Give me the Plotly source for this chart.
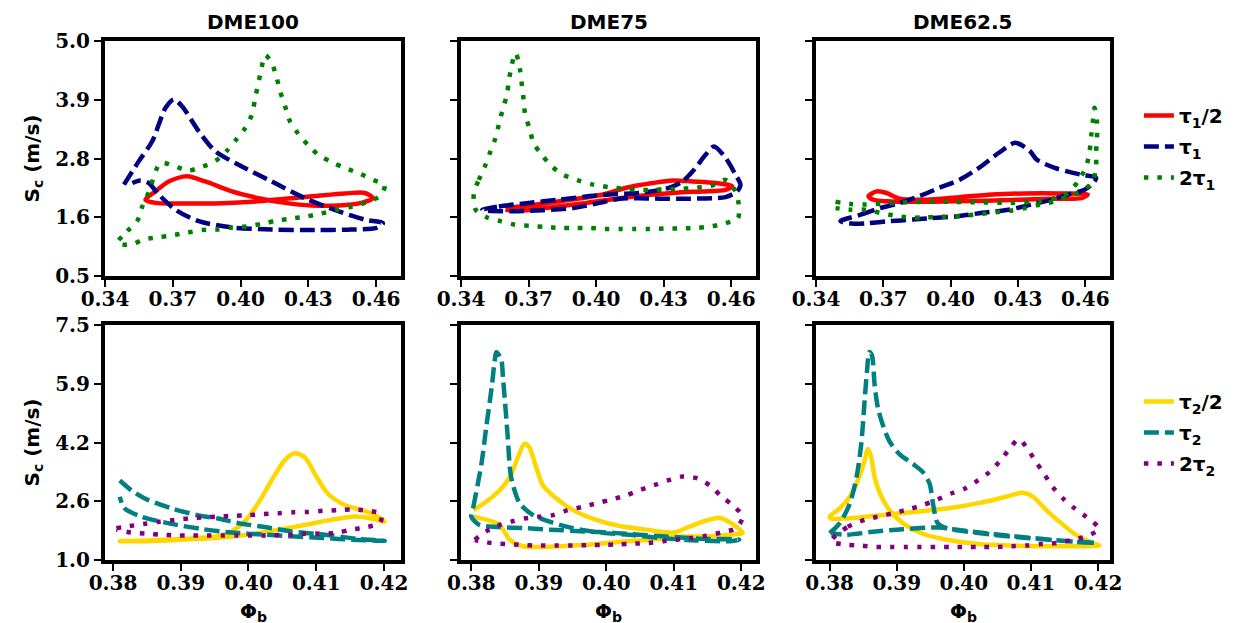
import plotly.graph_objects as go

# ---------------- DATA ----------------
# Top row (tau_1 cases), x = Phi_b, y = S_c (m/s)
# DME100
phi100_t1h = [0.3579, 0.3623, 0.3682, 0.3763, 0.3844, 0.3962, 0.4079, 0.4197, 0.4314, 0.4432, 0.4535, 0.4586,
              0.4550, 0.4461, 0.4329, 0.4197, 0.4050, 0.3888, 0.3741, 0.3623, 0.3579]
sc100_t1h = [1.96, 2.12, 2.31, 2.41, 2.31, 2.12, 1.99, 1.90, 1.85, 1.85, 1.90, 1.99,
             2.09, 2.08, 2.03, 1.98, 1.92, 1.89, 1.89, 1.90, 1.96]
phi100_t1 = [0.3484, 0.3550, 0.3609, 0.3668, 0.3704, 0.3741, 0.3815, 0.3888, 0.3991, 0.4138, 0.4285, 0.4432,
             0.4550, 0.4630, 0.4601, 0.4491, 0.4329, 0.4138, 0.3962, 0.3815, 0.3712, 0.3638, 0.3594, 0.3557, 0.3521]
sc100_t1 = [2.25, 2.70, 3.08, 3.72, 3.88, 3.75, 3.27, 2.89, 2.63, 2.31, 1.99, 1.74,
            1.58, 1.51, 1.42, 1.39, 1.38, 1.39, 1.43, 1.55, 1.77, 2.06, 2.28, 2.33, 2.28]
phi100_t1d = [0.3454, 0.3499, 0.3543, 0.3565, 0.3594, 0.3645, 0.3704, 0.3768, 0.3829, 0.3888, 0.3940, 0.3984,
              0.4020, 0.4050, 0.4065, 0.4090, 0.4109, 0.4138, 0.4160, 0.4175, 0.4197, 0.4219, 0.4256, 0.4300,
              0.4344, 0.4403, 0.4461, 0.4528, 0.4586, 0.4638, 0.4616, 0.4550, 0.4484, 0.4425, 0.4351, 0.4292,
              0.4226, 0.4160, 0.4094, 0.4028, 0.3962, 0.3896, 0.3829, 0.3763, 0.3697, 0.3638, 0.3572, 0.3513, 0.3454]
sc100_t1d = [1.13, 1.36, 1.56, 1.83, 2.11, 2.66, 2.61, 2.52, 2.59, 2.70, 2.90, 3.13,
             3.33, 3.59, 3.91, 4.42, 4.73, 4.58, 4.29, 4.04, 3.75, 3.46, 3.22, 3.00,
             2.82, 2.68, 2.57, 2.46, 2.34, 2.24, 2.03, 1.90, 1.82, 1.77, 1.69, 1.64,
             1.60, 1.56, 1.50, 1.45, 1.43, 1.39, 1.38, 1.33, 1.28, 1.24, 1.20, 1.10, 1.13]
# DME75
phi75_t1h = [0.3597, 0.3737, 0.3884, 0.4031, 0.4134, 0.4251, 0.4339, 0.4428, 0.4531, 0.4604,
             0.4575, 0.4472, 0.4369, 0.4251, 0.4104, 0.3957, 0.3810, 0.3663, 0.3597]
sc75_t1h = [1.80, 1.87, 1.96, 2.06, 2.19, 2.28, 2.33, 2.31, 2.28, 2.22,
            2.15, 2.12, 2.10, 2.06, 1.99, 1.90, 1.82, 1.75, 1.77]
phi75_t1 = [0.3494, 0.3568, 0.3700, 0.3832, 0.3972, 0.4089, 0.4192, 0.4325, 0.4383, 0.4428, 0.4486, 0.4523,
            0.4575, 0.4619, 0.4641, 0.4626, 0.4575, 0.4516, 0.4398, 0.4281, 0.4192, 0.4104, 0.4016, 0.3898,
            0.3766, 0.3634, 0.3516, 0.3494]
sc75_t1 = [1.77, 1.83, 1.90, 1.96, 2.03, 2.07, 2.09, 2.19, 2.31, 2.50, 2.82, 2.98,
           2.76, 2.44, 2.25, 2.12, 2.01, 1.99, 1.98, 1.98, 1.99, 1.98, 1.90, 1.80,
           1.76, 1.74, 1.75, 1.77]
phi75_t1d = [0.3457, 0.3479, 0.3509, 0.3531, 0.3553, 0.3568, 0.3587, 0.3604, 0.3612, 0.3626, 0.3641, 0.3656,
             0.3663, 0.3671, 0.3678, 0.3685, 0.3704, 0.3722, 0.3759, 0.3803, 0.3854, 0.3920, 0.3987, 0.4060,
             0.4126, 0.4185, 0.4251, 0.4310, 0.4383, 0.4442, 0.4508, 0.4575, 0.4619, 0.4633, 0.4630, 0.4575,
             0.4508, 0.4442, 0.4369, 0.4310, 0.4237, 0.4170, 0.4104, 0.4038, 0.3972, 0.3906, 0.3840, 0.3773,
             0.3707, 0.3641, 0.3575, 0.3516, 0.3465, 0.3457]
sc75_t1d = [2.09, 2.34, 2.63, 2.89, 3.14, 3.40, 3.72, 3.97, 4.23, 4.55, 4.77, 4.61,
            4.42, 4.13, 3.88, 3.59, 3.33, 3.05, 2.82, 2.60, 2.44, 2.33, 2.25, 2.20,
            2.17, 2.15, 2.15, 2.16, 2.17, 2.19, 2.22, 2.34, 2.12, 1.87, 1.61, 1.51,
            1.45, 1.42, 1.41, 1.41, 1.40, 1.40, 1.40, 1.40, 1.42, 1.42, 1.42, 1.44,
            1.46, 1.48, 1.55, 1.62, 1.77, 2.09]
# DME62.5
phi625_t1h = [0.3634, 0.3671, 0.3715, 0.3773, 0.3891, 0.4038, 0.4185, 0.4332, 0.4479, 0.4611,
              0.4582, 0.4450, 0.4303, 0.4156, 0.4009, 0.3862, 0.3715, 0.3656, 0.3634]
sc625_t1h = [2.03, 2.12, 2.09, 1.98, 1.96, 2.01, 2.06, 2.08, 2.08, 2.06,
             1.99, 1.98, 1.96, 1.94, 1.93, 1.92, 1.93, 1.96, 2.03]
phi625_t1 = [0.3509, 0.3597, 0.3685, 0.3759, 0.3862, 0.3950, 0.4038, 0.4126, 0.4215, 0.4288, 0.4354, 0.4383,
             0.4464, 0.4523, 0.4582, 0.4648, 0.4641, 0.4597, 0.4523, 0.4450, 0.4361, 0.4259, 0.4141, 0.4023,
             0.3920, 0.3832, 0.3729, 0.3626, 0.3568, 0.3509]
sc625_t1 = [1.55, 1.67, 1.80, 1.88, 2.03, 2.19, 2.34, 2.57, 2.86, 3.05, 2.89, 2.73,
            2.57, 2.50, 2.44, 2.38, 2.31, 2.15, 2.06, 1.96, 1.87, 1.77, 1.71, 1.64,
            1.61, 1.58, 1.55, 1.51, 1.50, 1.55]
phi625_t1d = [0.3487, 0.3553, 0.3619, 0.3744, 0.3876, 0.4009, 0.4141, 0.4266, 0.4398, 0.4464, 0.4523, 0.4567,
              0.4604, 0.4619, 0.4626, 0.4633, 0.4641, 0.4652, 0.4652, 0.4648, 0.4648, 0.4633, 0.4582, 0.4523,
              0.4464, 0.4398, 0.4332, 0.4266, 0.4200, 0.4141, 0.4075, 0.4009, 0.3942, 0.3876, 0.3810, 0.3744,
              0.3685, 0.3619, 0.3553, 0.3487]
sc625_t1d = [1.92, 1.88, 1.87, 1.90, 1.92, 1.92, 1.91, 1.90, 1.93, 1.99, 2.09, 2.31,
             2.60, 2.89, 3.17, 3.43, 3.72, 3.46, 3.14, 2.86, 2.60, 2.31, 2.12, 2.03,
             1.93, 1.87, 1.80, 1.75, 1.72, 1.69, 1.66, 1.64, 1.63, 1.62, 1.62, 1.66,
             1.71, 1.77, 1.77, 1.80]

# Bottom row (tau_2 cases)
# DME100
phi100_t2h = [0.3810, 0.3852, 0.3901, 0.3950, 0.3975, 0.3994, 0.4014, 0.4034, 0.4053, 0.4068, 0.4083, 0.4098,
              0.4117, 0.4142, 0.4167, 0.4186, 0.4201, 0.4181, 0.4157, 0.4122, 0.4083, 0.4044, 0.3999, 0.3950,
              0.3901, 0.3852, 0.3810]
sc100_t2h = [1.52, 1.54, 1.58, 1.65, 1.79, 2.06, 2.56, 3.20, 3.75, 3.95, 3.84, 3.38,
             2.84, 2.52, 2.38, 2.25, 2.06, 2.15, 2.20, 2.11, 1.97, 1.84, 1.70, 1.61,
             1.56, 1.52, 1.52]
phi100_t2 = [0.3810, 0.3827, 0.3847, 0.3886, 0.3930, 0.3955, 0.3985, 0.4024, 0.4063, 0.4122, 0.4162, 0.4196,
             0.4201, 0.4152, 0.4112, 0.4068, 0.4024, 0.3975, 0.3930, 0.3886, 0.3842, 0.3817, 0.3810]
sc100_t2 = [3.20, 2.93, 2.70, 2.43, 2.22, 2.15, 2.02, 1.91, 1.79, 1.68, 1.58, 1.54,
            1.53, 1.56, 1.61, 1.65, 1.70, 1.76, 1.86, 2.00, 2.20, 2.43, 2.75]
phi100_t2d = [0.3805, 0.3825, 0.3847, 0.3869, 0.3891, 0.3913, 0.3935, 0.3955, 0.3977, 0.3999, 0.4021, 0.4044,
              0.4066, 0.4088, 0.4110, 0.4132, 0.4154, 0.4177, 0.4196, 0.4194, 0.4174, 0.4152, 0.4130, 0.4107,
              0.4085, 0.4066, 0.4048, 0.4026, 0.4004, 0.3982, 0.3960, 0.3938, 0.3916, 0.3894, 0.3871, 0.3849,
              0.3827, 0.3805]
sc100_t2d = [1.88, 1.94, 2.00, 2.06, 2.11, 2.15, 2.18, 2.20, 2.22, 2.24, 2.27, 2.29,
             2.32, 2.33, 2.36, 2.38, 2.40, 2.36, 2.27, 2.02, 1.91, 1.84, 1.75, 1.73,
             1.73, 1.70, 1.69, 1.68, 1.68, 1.68, 1.68, 1.68, 1.68, 1.68, 1.70, 1.73,
             1.76, 1.84]
# DME75
phi75_t2h = [0.3803, 0.3822, 0.3842, 0.3857, 0.3869, 0.3879, 0.3886, 0.3896, 0.3906, 0.3926, 0.3951, 0.3985,
             0.4020, 0.4059, 0.4099, 0.4118, 0.4143, 0.4168, 0.4185, 0.4202, 0.4182, 0.4148, 0.4108, 0.4069,
             0.4030, 0.3990, 0.3951, 0.3911, 0.3877, 0.3857, 0.3842, 0.3827, 0.3803]
sc75_t2h = [2.38, 2.61, 2.93, 3.29, 3.84, 4.22, 4.11, 3.57, 3.07, 2.70, 2.38, 2.11,
            1.94, 1.84, 1.76, 1.88, 2.06, 2.17, 2.02, 1.75, 1.70, 1.65, 1.65, 1.57,
            1.52, 1.45, 1.40, 1.36, 1.38, 1.56, 1.97, 2.09, 2.20]
phi75_t2 = [0.3800, 0.3803, 0.3815, 0.3822, 0.3830, 0.3835, 0.3837, 0.3844, 0.3847, 0.3851, 0.3854, 0.3859,
            0.3872, 0.3891, 0.3916, 0.3951, 0.3995, 0.4034, 0.4079, 0.4133, 0.4182, 0.4197, 0.4138, 0.4089,
            0.4049, 0.4010, 0.3970, 0.3916, 0.3879, 0.3840, 0.3812, 0.3800]
sc75_t2 = [2.20, 2.47, 3.66, 4.66, 5.75, 6.57, 6.75, 6.57, 6.02, 5.11, 4.39, 3.29,
           2.56, 2.25, 2.06, 1.88, 1.75, 1.70, 1.61, 1.54, 1.52, 1.56, 1.59, 1.65,
           1.70, 1.75, 1.79, 1.84, 1.88, 1.91, 1.97, 2.20]
phi75_t2d = [0.3805, 0.3822, 0.3842, 0.3859, 0.3879, 0.3901, 0.3921, 0.3943, 0.3965, 0.3988, 0.4007, 0.4030,
             0.4049, 0.4071, 0.4091, 0.4113, 0.4136, 0.4155, 0.4170, 0.4187, 0.4202, 0.4192, 0.4170, 0.4148,
             0.4126, 0.4103, 0.4084, 0.4062, 0.4039, 0.4017, 0.3995, 0.3973, 0.3951, 0.3928, 0.3896, 0.3872,
             0.3852, 0.3830, 0.3805]
sc75_t2d = [1.56, 1.79, 1.97, 2.06, 2.15, 2.20, 2.24, 2.38, 2.47, 2.58, 2.67, 2.79,
            2.93, 3.07, 3.20, 3.31, 3.25, 3.04, 2.77, 2.52, 2.20, 1.88, 1.76, 1.67,
            1.61, 1.56, 1.52, 1.47, 1.45, 1.43, 1.42, 1.41, 1.40, 1.40, 1.40, 1.42,
            1.44, 1.47, 1.55]
# DME62.5
phi625_t2h = [0.3800, 0.3815, 0.3830, 0.3842, 0.3852, 0.3857, 0.3862, 0.3867, 0.3875, 0.3889, 0.3909, 0.3934,
              0.3969, 0.4018, 0.4068, 0.4118, 0.4167, 0.4202, 0.4192, 0.4167, 0.4143, 0.4123, 0.4103, 0.4088,
              0.4063, 0.4024, 0.3984, 0.3944, 0.3904, 0.3865, 0.3825, 0.3802, 0.3800]
sc625_t2h = [2.20, 2.43, 2.75, 3.20, 3.75, 4.07, 3.84, 3.29, 2.84, 2.38, 2.02, 1.76,
             1.58, 1.45, 1.40, 1.38, 1.38, 1.40, 1.47, 1.70, 2.05, 2.38, 2.75, 2.86,
             2.75, 2.58, 2.45, 2.36, 2.29, 2.22, 2.15, 2.15, 2.20]
phi625_t2 = [0.3800, 0.3815, 0.3830, 0.3840, 0.3847, 0.3852, 0.3856, 0.3859, 0.3863, 0.3867, 0.3872, 0.3879,
             0.3889, 0.3904, 0.3924, 0.3939, 0.3949, 0.3954, 0.3961, 0.3974, 0.4004, 0.4043, 0.4093, 0.4143,
             0.4197, 0.4167, 0.4118, 0.4068, 0.4024, 0.3984, 0.3964, 0.3909, 0.3869, 0.3825, 0.3802]
sc625_t2 = [1.74, 2.02, 2.56, 3.29, 4.20, 5.39, 6.30, 6.75, 6.66, 5.84, 5.20, 4.75,
            4.29, 3.93, 3.66, 3.43, 3.11, 2.56, 2.02, 1.88, 1.79, 1.70, 1.61, 1.54,
            1.47, 1.50, 1.58, 1.67, 1.76, 1.85, 1.90, 1.85, 1.79, 1.70, 1.74]
phi625_t2d = [0.3802, 0.3827, 0.3852, 0.3877, 0.3894, 0.3917, 0.3939, 0.3959, 0.3981, 0.4001, 0.4021, 0.4038,
              0.4053, 0.4066, 0.4082, 0.4095, 0.4108, 0.4120, 0.4133, 0.4148, 0.4165, 0.4182, 0.4200, 0.4201,
              0.4182, 0.4160, 0.4138, 0.4115, 0.4093, 0.4071, 0.4048, 0.4026, 0.4004, 0.3981, 0.3959, 0.3936,
              0.3914, 0.3892, 0.3869, 0.3847, 0.3825, 0.3802]
sc625_t2d = [1.52, 1.92, 2.11, 2.22, 2.29, 2.40, 2.52, 2.66, 2.84, 2.97, 3.20, 3.43,
             3.72, 4.02, 4.34, 4.07, 3.70, 3.37, 3.01, 2.70, 2.43, 2.20, 1.92, 1.84,
             1.65, 1.55, 1.47, 1.44, 1.40, 1.38, 1.36, 1.36, 1.36, 1.36, 1.36, 1.36,
             1.36, 1.36, 1.36, 1.40, 1.42, 1.52]

panel_titles = ["DME100", "DME75", "DME62.5"]
names_top = ["<b>τ<sub>1</sub>/2</b>", "<b>τ<sub>1</sub></b>", "<b>2τ<sub>1</sub></b>"]
names_bot = ["<b>τ<sub>2</sub>/2</b>", "<b>τ<sub>2</sub></b>", "<b>2τ<sub>2</sub></b>"]

top_x_ticks = [0.34, 0.37, 0.40, 0.43, 0.46]
top_x_labels = ["0.34", "0.37", "0.40", "0.43", "0.46"]
bot_x_ticks = [0.38, 0.39, 0.40, 0.41, 0.42]
bot_x_labels = ["0.38", "0.39", "0.40", "0.41", "0.42"]
top_y_ticks = [0.5, 1.625, 2.75, 3.875, 5.0]
top_y_labels = ["0.5", "1.6", "2.8", "3.9", "5.0"]
bot_y_ticks = [1.0, 2.625, 4.25, 5.875, 7.5]
bot_y_labels = ["1.0", "2.6", "4.2", "5.9", "7.5"]

# ---------------- STYLE / LAYOUT ----------------
W, H = 1251, 623
col_px = [(97, 393), (453, 748), (808, 1102)]
row_px = [(33, 268), (317, 552)]
top_xrange = [0.3400, 0.4710]
bot_xranges = [[0.37882, 0.42251], [0.37847, 0.42218], [0.37796, 0.42179]]
top_yrange = [0.5, 5.0]
bot_yrange = [1.0, 7.5]

top_colors = ["#ff0000", "#000080", "#008000"]
bot_colors = ["#ffd700", "#008080", "#800080"]
dashes = ["solid", "15px,6px", "4.5px,9px"]

top_data = [
    [(phi100_t1h, sc100_t1h), (phi100_t1, sc100_t1), (phi100_t1d, sc100_t1d)],
    [(phi75_t1h, sc75_t1h), (phi75_t1, sc75_t1), (phi75_t1d, sc75_t1d)],
    [(phi625_t1h, sc625_t1h), (phi625_t1, sc625_t1), (phi625_t1d, sc625_t1d)],
]
bot_data = [
    [(phi100_t2h, sc100_t2h), (phi100_t2, sc100_t2), (phi100_t2d, sc100_t2d)],
    [(phi75_t2h, sc75_t2h), (phi75_t2, sc75_t2), (phi75_t2d, sc75_t2d)],
    [(phi625_t2h, sc625_t2h), (phi625_t2, sc625_t2), (phi625_t2d, sc625_t2d)],
]

tick_font = dict(family="DejaVu Serif", size=20, color="black", weight="bold")
label_font = dict(family="DejaVu Sans", size=20, color="black", weight="bold")

fig = go.Figure()
layout = dict(width=W, height=H, margin=dict(l=0, r=0, t=0, b=0),
              paper_bgcolor="white", plot_bgcolor="white", template="none")

axis_common = dict(showline=True, linewidth=4, linecolor="black", mirror=True,
                   ticks="outside", ticklen=7, tickwidth=2, tickcolor="black",
                   showgrid=False, zeroline=False, tickfont=tick_font,
                   automargin=False, fixedrange=True)

idx = 0
for r in range(2):
    for c in range(3):
        idx += 1
        xa = "xaxis" if idx == 1 else f"xaxis{idx}"
        ya = "yaxis" if idx == 1 else f"yaxis{idx}"
        xr = top_xrange if r == 0 else bot_xranges[c]
        yr = top_yrange if r == 0 else bot_yrange
        layout[xa] = dict(axis_common, domain=[col_px[c][0] / W, col_px[c][1] / W],
                          range=xr, anchor=f"y{idx}", ticklabelstandoff=-5,
                          tickvals=top_x_ticks if r == 0 else bot_x_ticks,
                          ticktext=top_x_labels if r == 0 else bot_x_labels)
        layout[ya] = dict(axis_common, domain=[1 - row_px[r][1] / H, 1 - row_px[r][0] / H],
                          range=yr, anchor=f"x{idx}",
                          tickvals=top_y_ticks if r == 0 else bot_y_ticks,
                          ticktext=top_y_labels if r == 0 else bot_y_labels,
                          showticklabels=(c == 0))
        data = top_data[c] if r == 0 else bot_data[c]
        colors = top_colors if r == 0 else bot_colors
        names = names_top if r == 0 else names_bot
        for k in range(3):
            xs, ys = data[k]
            fig.add_trace(go.Scatter(
                x=xs, y=ys, mode="lines",
                line=dict(color=colors[k], width=4.5, dash=dashes[k], shape="spline", smoothing=0.8),
                name=names[k], legend="legend" if r == 0 else "legend2",
                legendgroup=f"r{r}k{k}", showlegend=(c == 0),
                xaxis=f"x{idx}", yaxis=f"y{idx}", hoverinfo="skip"))

layout["legend"] = dict(x=0.904, y=1 - 88 / H, xanchor="left", yanchor="top",
                        font=label_font, tracegroupgap=2, bgcolor="rgba(0,0,0,0)")
layout["legend2"] = dict(x=0.904, y=1 - 374 / H, xanchor="left", yanchor="top",
                         font=label_font, tracegroupgap=2, bgcolor="rgba(0,0,0,0)")

annotations = []
for c in range(3):
    cx = (col_px[c][0] + col_px[c][1]) / 2 / W
    annotations.append(dict(text=f"<b>{panel_titles[c]}</b>", x=cx, y=1 - 14 / H,
                            xref="paper", yref="paper", showarrow=False, font=label_font,
                            xanchor="center", yanchor="middle"))
    annotations.append(dict(text="<b>Φ<sub>b</sub></b>", x=cx, y=1 - 604 / H,
                            xref="paper", yref="paper", showarrow=False, font=label_font,
                            xanchor="center", yanchor="middle"))
for r in range(2):
    cy = 1 - (row_px[r][0] + row_px[r][1]) / 2 / H
    annotations.append(dict(text="<b>S<sub>c</sub> (m/s)</b>", x=24 / W, y=cy,
                            xref="paper", yref="paper", showarrow=False, font=label_font,
                            textangle=-90, xanchor="center", yanchor="middle"))
layout["annotations"] = annotations

fig.update_layout(**layout)
fig.write_html("out.html")
